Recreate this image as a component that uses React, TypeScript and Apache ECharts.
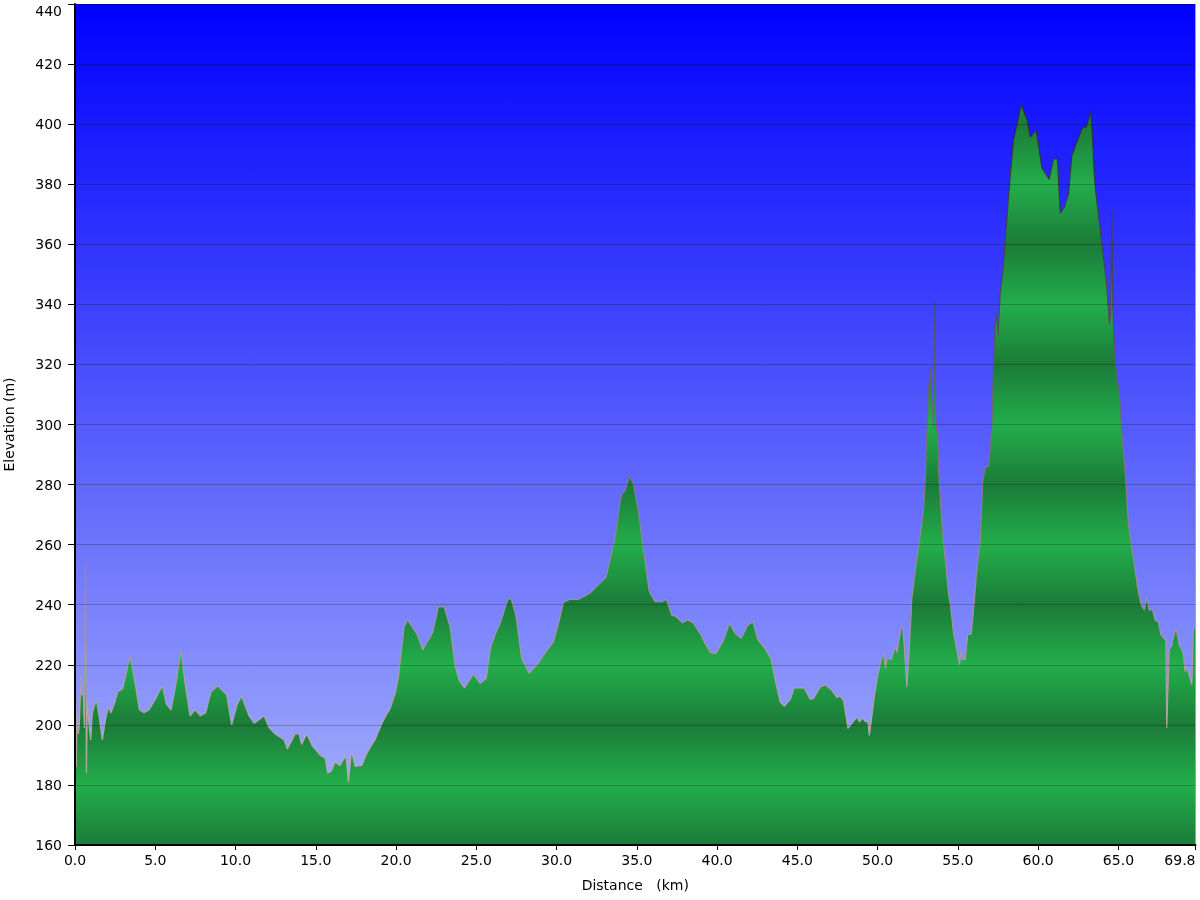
import React, { useEffect, useRef } from "react";
import * as echarts from "echarts";

const distanceKm: number[] = [
  0.0, 0.04, 0.08, 0.12, 0.21, 0.27, 0.37, 0.42, 0.52, 0.58, 0.66, 0.71, 0.77, 0.87, 0.98, 1.08, 1.25, 1.35, 1.5, 1.7,
  1.91, 2.08, 2.24, 2.45, 2.66, 2.97, 3.43, 3.74, 4.01, 4.3, 4.61, 5.05, 5.44, 5.69, 5.98, 6.27, 6.6, 6.85, 7.17, 7.48,
  7.81, 8.14, 8.47, 8.89, 9.45, 9.76, 10.11, 10.38, 10.84, 11.17, 11.78, 12.09, 12.46, 13.02, 13.23, 13.71, 13.96, 14.12, 14.43, 14.79,
  15.26, 15.58, 15.74, 15.95, 16.2, 16.51, 16.72, 16.89, 17.03, 17.2, 17.28, 17.45, 17.86, 18.17, 18.55, 18.69, 19.11, 19.38, 19.63, 19.94,
  20.15, 20.36, 20.5, 20.71, 21.29, 21.66, 22.27, 22.64, 22.99, 23.37, 23.68, 23.95, 24.26, 24.82, 25.24, 25.61, 25.9, 26.17, 26.52, 26.96,
  27.17, 27.46, 27.83, 28.29, 28.77, 29.29, 29.8, 30.12, 30.43, 30.84, 31.36, 31.78, 32.09, 32.51, 33.07, 33.28, 33.65, 34.02, 34.27, 34.54,
  34.79, 35.1, 35.46, 35.77, 36.14, 36.56, 36.83, 37.18, 37.45, 37.84, 38.18, 38.53, 38.95, 39.26, 39.57, 39.92, 40.4, 40.77, 41.17, 41.5,
  41.9, 42.23, 42.54, 42.99, 43.37, 43.66, 43.93, 44.2, 44.59, 44.8, 45.43, 45.8, 46.01, 46.42, 46.73, 47.15, 47.46, 47.67, 47.88, 48.15,
  48.46, 48.71, 48.87, 49.06, 49.25, 49.39, 49.48, 49.58, 49.79, 50.0, 50.27, 50.37, 50.49, 50.58, 50.85, 51.0, 51.14, 51.2, 51.3, 51.45,
  51.55, 51.66, 51.82, 51.97, 52.13, 52.4, 52.64, 52.85, 52.96, 53.06, 53.16, 53.27, 53.37, 53.47, 53.58, 53.62, 53.72, 53.81, 53.93, 54.1,
  54.26, 54.41, 54.55, 54.72, 54.93, 55.1, 55.2, 55.26, 55.45, 55.61, 55.82, 55.97, 56.17, 56.38, 56.55, 56.72, 56.92, 57.11, 57.21, 57.32,
  57.42, 57.5, 57.63, 57.84, 58.04, 58.25, 58.46, 58.67, 58.94, 59.33, 59.5, 59.87, 60.02, 60.22, 60.68, 60.95, 61.2, 61.37, 61.62, 61.89,
  62.09, 62.45, 62.78, 62.99, 63.3, 63.49, 63.59, 63.96, 64.27, 64.44, 64.52, 64.59, 64.65, 64.75, 64.9, 65.04, 65.21, 65.42, 65.62, 65.94,
  66.21, 66.41, 66.6, 66.77, 66.91, 67.12, 67.29, 67.49, 67.64, 67.85, 67.95, 68.01, 68.16, 68.32, 68.43, 68.59, 68.8, 68.95, 69.05, 69.15,
  69.26, 69.42, 69.57, 69.67, 69.8,
];

const elevationM: number[] = [
  186, 213, 186, 205, 197, 200, 216, 210, 210, 199, 254, 184, 208, 200, 195, 204, 207, 208, 203, 195,
  202, 206, 204, 207, 211, 212, 223, 214, 205, 204, 205, 209, 213, 207, 205, 213, 225, 214, 203, 205,
  203, 204, 211, 213, 210, 200, 207, 209.5, 203, 200.5, 203, 199, 197, 195, 192, 197, 197, 193.5, 197, 193,
  190, 189, 184, 184.5, 187.6, 186.5, 188.5, 189.3, 181, 190.2, 190, 186.2, 186.5, 190.4, 194, 195, 200.4, 203.2, 205.4, 210.4,
  216, 226, 232.6, 235, 230.4, 225, 230.6, 239.3, 239.3, 232.6, 219.5, 214.6, 212.3, 217, 213.8, 215.4, 226, 230, 234.3, 241.8,
  242.1, 236.5, 222, 217.3, 220, 224, 227.6, 233.8, 240.8, 241.8, 241.8, 242.9, 244, 246.2, 249.1, 253.8, 262.6, 276.5, 278, 282.9,
  280.2, 271, 256.5, 244.5, 241, 241, 241.8, 236.5, 236, 234, 235, 233.8, 230.4, 227.1, 224.1, 223.8, 228.2, 233.8, 230.2, 228.8,
  233.2, 234.3, 228.4, 225.4, 221.8, 213.8, 207.6, 206.2, 208.8, 212.4, 212.2, 208.5, 208.8, 212.6, 213.4, 211.5, 209.1, 209.6, 208, 198.8,
  201, 202.6, 201, 202.3, 201, 201.3, 196.5, 200.4, 209.3, 216.5, 222.6, 223.5, 218.8, 222.1, 221.8, 224.3, 226, 224, 227.1, 232.1,
  232.6, 226, 212.6, 224.9, 242.3, 253.9, 262.5, 271.2, 281.3, 297.2, 310.2, 318.8, 308.7, 298.6, 341.2, 297.2, 300.1, 284.2, 272.7, 261.1,
  252.5, 243.8, 239.4, 230.8, 225, 220, 225, 221.8, 221.8, 230.1, 230.1, 238, 251, 261.1, 281.3, 285.9, 286.2, 298.6, 318.8, 333.3,
  336.9, 329.7, 343.4, 353.5, 367.9, 382.4, 394.7, 399.7, 406.6, 401.2, 395.7, 398, 393.2, 385.6, 381.7, 388.4, 388.4, 370.4, 372.3, 376.6,
  389.3, 394.7, 399, 399, 404.3, 383.8, 377.3, 360.7, 346.3, 333.3, 336.2, 370.8, 339.1, 324.6, 315.2, 311.6, 297.2, 284.2, 266.9, 255.3,
  245.2, 240.1, 238.3, 242.3, 238.3, 238.3, 234.8, 234.4, 230.1, 228.6, 228.6, 199, 225, 226.4, 229.3, 232.2, 226.4, 225, 223.5, 217.8,
  219.2, 216.3, 213.4, 232.2, 232.2,
];

const yMin = 160;
const yMax = 440;
const yStep = 20;
const xMin = 0;
const xMax = 69.8;
const xStep = 5;

const FONT = "'DejaVu Sans', Verdana, sans-serif";

export default function App() {
  const ref = useRef<HTMLDivElement>(null);

  useEffect(() => {
    if (!ref.current) return;
    const chart = echarts.init(ref.current, undefined, { renderer: "svg" });

    const gridTop = 4;
    const gridBottomPx = 845;

    // banded green fill: dark at every 40 m, bright in between
    const bandStops: { offset: number; color: string }[] = [];
    const nBands = 14;
    for (let k = 0; k <= nBands; k++) {
      bandStops.push({ offset: k / nBands, color: k % 2 === 0 ? "#1b7b38" : "#23ae4b" });
    }

    const data = distanceKm.map((d, i) => [d, elevationM[i]]);

    chart.setOption({
      animation: false,
      grid: {
        left: 75,
        right: 4.5,
        top: gridTop,
        bottom: 55,
        show: true,
        borderWidth: 0,
        containLabel: false,
        outerBoundsMode: "none",
        backgroundColor: {
          type: "linear",
          x: 0,
          y: 0,
          x2: 0,
          y2: 1,
          colorStops: [
            { offset: 0, color: "#0000ff" },
            { offset: 1, color: "#a9b5fa" },
          ],
        },
      },
      xAxis: {
        type: "value",
        min: xMin,
        max: xMax,
        interval: xStep,
        z: 3,
        name: "Distance   (km)",
        nameLocation: "middle",
        nameGap: 33,
        nameTextStyle: { color: "#000", fontSize: 14, fontFamily: FONT },
        axisLine: { show: true, lineStyle: { color: "#000", width: 2 } },
        axisTick: { show: true, length: 5, lineStyle: { color: "#000" } },
        axisLabel: {
          color: "#000",
          fontSize: 14,
          fontFamily: FONT,
          margin: 8,
          alignMaxLabel: "right",
          showMaxLabel: true,
          formatter: (v: number) => v.toFixed(1),
        },
        splitLine: { show: false },
      },
      yAxis: [
        {
          type: "value",
          min: yMin,
          max: yMax,
          interval: yStep,
          z: 3,
          name: "Elevation (m)",
          nameLocation: "middle",
          nameGap: 59,
          nameTextStyle: { color: "#000", fontSize: 14, fontFamily: FONT },
          axisLine: { show: true, lineStyle: { color: "#000", width: 2 } },
          axisTick: { show: true, length: 7, lineStyle: { color: "#000" } },
          axisLabel: {
            color: "#000",
            fontSize: 14,
            fontFamily: FONT,
            margin: 13,
            verticalAlignMaxLabel: "top",
          },
          splitLine: { show: true, lineStyle: { color: "rgba(0,0,0,0.22)", width: 1 } },
        },
        {
          type: "value",
          min: yMin,
          max: yMax,
          position: "right",
          z: 3,
          axisLine: { show: true, lineStyle: { color: "#44dd66", width: 1 } },
          axisTick: { show: false },
          axisLabel: { show: false },
          splitLine: { show: false },
        },
      ],
      series: [
        {
          type: "line",
          data,
          yAxisIndex: 0,
          showSymbol: false,
          symbol: "none",
          z: 2,
          lineStyle: {
            width: 1.2,
            color: {
              type: "linear",
              global: true,
              x: 0,
              y: gridTop,
              x2: 0,
              y2: gridBottomPx,
              colorStops: [
                { offset: 0, color: "#1e1e22" },
                { offset: 0.35, color: "#4a4a55" },
                { offset: 0.6, color: "#8a8090" },
                { offset: 0.85, color: "#b0a6a8" },
                { offset: 1, color: "#b8b0b0" },
              ],
            },
          },
          areaStyle: {
            opacity: 1,
            color: {
              type: "linear",
              global: true,
              x: 0,
              y: gridTop,
              x2: 0,
              y2: gridBottomPx,
              colorStops: bandStops,
            },
          },
        },
      ],
    });

    return () => chart.dispose();
  }, []);

  return (
    <div
      ref={ref}
      style={{ position: "fixed", left: 0, top: 0, width: 1200, height: 900 }}
    />
  );
}
